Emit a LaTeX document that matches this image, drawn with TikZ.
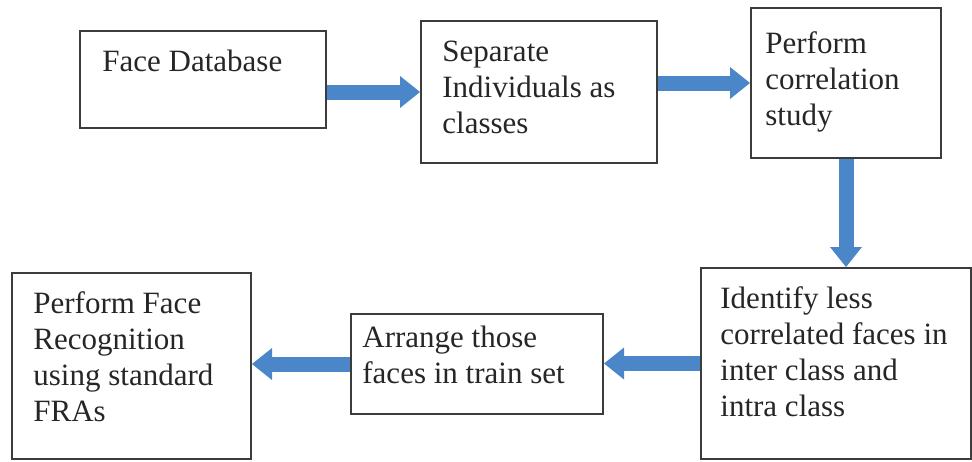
\documentclass[tikz,border=0pt]{standalone}
\usepackage{fontspec}
\setmainfont{Liberation Serif}
\usetikzlibrary{arrows.meta}
\definecolor{arrowblue}{RGB}{74,134,200}
\definecolor{boxline}{RGB}{60,60,60}
\begin{document}
\begin{tikzpicture}[x=0.5pt,y=-0.5pt,
  box/.style={draw=boxline,line width=1pt,inner sep=0pt,anchor=north west},
  txt/.style={inner sep=0pt,anchor=north west,align=left,text=black!85,
    font=\fontsize{15.5}{18}\selectfont},
  flow/.style={draw=arrowblue,line width=7.5pt,
    -{Triangle[width=16pt,length=10pt,line width=0pt]}}]

\useasboundingbox (0,0) rectangle (972,461);

\node[box,minimum width=123pt,minimum height=48.5pt] (db) at (79,30) {};
\node[box,minimum width=118pt,minimum height=71pt] (sep) at (420,20) {};
\node[box,minimum width=95pt,minimum height=75pt] (corr) at (750,7) {};
\node[box,minimum width=135pt,minimum height=95.5pt] (ident) at (700,267) {};
\node[box,minimum width=126pt,minimum height=50pt] (arr) at (350,313) {};
\node[box,minimum width=119.5pt,minimum height=93pt] (frec) at (11,272) {};

\node[txt] (dbtxt) at ([shift={(23,20)}]db.north west) {Face Database};
\node[txt] (septxt) at ([shift={(22,21)}]sep.north west) {Separate\\Individuals as\\classes};
\node[txt] (corrtxt) at ([shift={(15,24)}]corr.north west) {Perform\\correlation\\study};
\node[txt] (identtxt) at ([shift={(20,19)}]ident.north west) {Identify less\\correlated faces in\\inter class and\\intra class};
\node[txt] (arrtxt) at ([shift={(12,13)}]arr.north west) {Arrange those\\faces in train set};
\node[txt] (frectxt) at ([shift={(22,19)}]frec.north west) {Perform Face\\Recognition\\using standard\\FRAs};

\draw[flow] (db.east |- sep.west) -- (sep.west);
\draw[flow] (sep.east |- corr.west) -- (corr.west);
\draw[flow] (corr.south) -- (corr.south |- ident.north);
\draw[flow] (ident.west) -- (ident.west -| arr.east);
\draw[flow] (arr.west) -- (arr.west -| frec.east);

\end{tikzpicture}
\end{document}
